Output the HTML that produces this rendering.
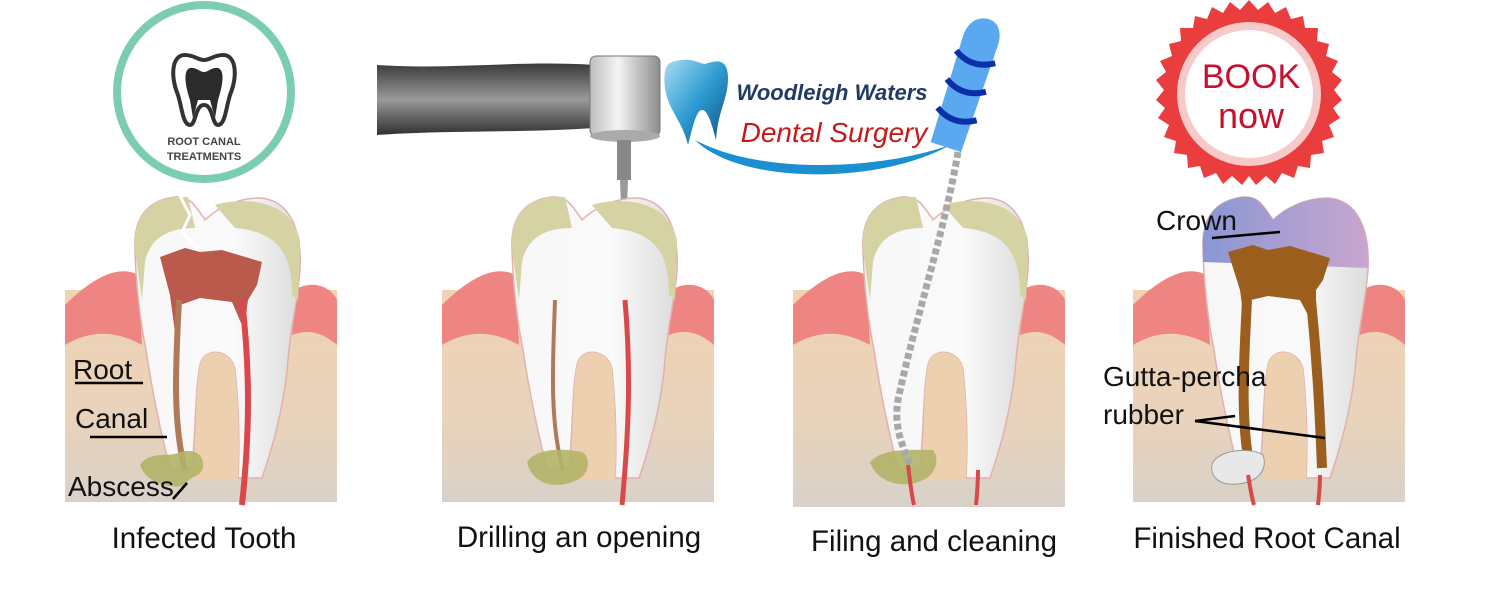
<!DOCTYPE html>
<html><head><meta charset="utf-8"><style>
html,body{margin:0;padding:0;background:#fff;width:1500px;height:600px;overflow:hidden}
svg{display:block}
text{font-family:"Liberation Sans",sans-serif}
</style></head><body>
<svg width="1500" height="600" viewBox="0 0 1500 600" xmlns="http://www.w3.org/2000/svg">
<defs>
<linearGradient id="bg" x1="0" y1="0" x2="0" y2="1">
<stop offset="0" stop-color="#f0d3b3"/><stop offset="0.6" stop-color="#e9d3bb"/><stop offset="1" stop-color="#d9d1c8"/></linearGradient>
<linearGradient id="tooth" x1="0" y1="0" x2="1" y2="0">
<stop offset="0" stop-color="#f7f7f7"/><stop offset="0.6" stop-color="#fafafa"/><stop offset="1" stop-color="#dcdcdc"/></linearGradient>
<linearGradient id="handle" x1="0" y1="0" x2="0" y2="1">
<stop offset="0" stop-color="#3a3a3a"/><stop offset="0.5" stop-color="#9a9a9a"/><stop offset="1" stop-color="#303030"/></linearGradient>
<linearGradient id="head" x1="0" y1="0" x2="1" y2="0">
<stop offset="0" stop-color="#bdbdbd"/><stop offset="0.4" stop-color="#f4f4f4"/><stop offset="1" stop-color="#8c8c8c"/></linearGradient>
<linearGradient id="btooth" x1="0" y1="0" x2="1" y2="1">
<stop offset="0" stop-color="#a9dcf2"/><stop offset="0.5" stop-color="#2e9bd1"/><stop offset="1" stop-color="#0b4f7c"/></linearGradient>
<linearGradient id="crown4" x1="0" y1="0" x2="1" y2="0">
<stop offset="0" stop-color="#8a97d4"/><stop offset="1" stop-color="#c8a6cf"/></linearGradient>
<g id="panel">
<rect x="65" y="290" width="272" height="212" fill="url(#bg)"/>
<path d="M65,305 C85,285 115,262 138,275 L142,345 C115,330 90,330 65,345 Z" fill="#ef8583"/>
<path d="M295,290 C310,280 330,285 337,300 L337,345 C320,330 305,330 292,335 Z" fill="#ef8583"/>
<path d="M135,250 C133,215 150,200 175,197 C190,196 195,205 205,220 C215,210 235,198 260,198 C290,200 302,230 300,270 C298,300 290,330 288,360 C285,400 275,440 262,478 L238,478 C240,440 238,400 235,370 C232,350 205,345 200,365 C195,390 196,430 192,468 L170,468 C160,430 152,390 146,350 C140,320 136,285 135,250 Z" fill="url(#tooth)" stroke="#e3b0ae" stroke-width="1.5"/>
<path d="M200,365 C205,345 232,350 235,370 C238,400 240,440 238,480 L195,480 C196,430 195,390 200,365 Z" fill="#ecd0b0"/>
</g>
</defs>

<circle cx="204" cy="92" r="87" fill="#fff" stroke="#7ccbb3" stroke-width="8"/>
<path d="M185,55 C172,55 170,75 178,95 C182,108 183,125 190,125 C196,125 195,105 204,105 C213,105 212,125 218,125 C225,125 226,108 230,95 C238,75 236,55 223,55 C214,55 210,60 204,60 C198,60 194,55 185,55 Z" fill="#fff" stroke="#333" stroke-width="4"/>
<path d="M190,68 C183,70 185,85 190,100 L193,118 L198,100 L210,100 L215,118 L218,100 C223,85 225,70 218,68 C212,67 208,72 204,72 C200,72 196,67 190,68 Z" fill="#2b2b2b"/>
<text x="204" y="145" font-size="11" font-weight="bold" text-anchor="middle" fill="#444">ROOT CANAL</text>
<text x="204" y="160" font-size="11" font-weight="bold" text-anchor="middle" fill="#444">TREATMENTS</text>

<path d="M377,65 C450,70 520,60 595,65 L595,128 C520,133 450,130 377,135 Z" fill="url(#handle)"/>
<rect x="590" y="56" width="70" height="80" rx="6" fill="url(#head)" stroke="#777"/>
<ellipse cx="625" cy="136" rx="35" ry="6" fill="#aaa"/>
<rect x="617" y="140" width="14" height="40" fill="#888"/>
<path d="M620,180 L628,180 L626,235 L622,235 Z" fill="#999"/>
<ellipse cx="624" cy="242" rx="5" ry="9" fill="#888"/>

<path d="M672,62 C690,56 700,64 705,64 C712,62 728,55 728,78 C728,100 718,110 716,140 C712,125 708,110 702,110 C696,110 692,130 688,145 C682,120 668,110 665,88 C663,72 666,64 672,62 Z" fill="url(#btooth)"/>
<path d="M695,140 C740,185 880,185 950,145 C880,170 760,175 695,140 Z" fill="#1b8fd0"/>
<text x="832" y="100" font-family="Liberation Serif,serif" font-style="italic" font-weight="bold" font-size="22" fill="#1f3a66" text-anchor="middle">Woodleigh Waters</text>
<text x="834" y="142" font-family="Liberation Serif,serif" font-style="italic" font-size="28" fill="#c41a1a" text-anchor="middle">Dental Surgery</text>

<g transform="rotate(18 965 85)">
<path d="M950,150 L948,40 C948,20 960,15 968,15 C976,15 985,22 984,40 L982,150 Z" fill="#5aa8f0"/>
<path d="M946,55 Q966,68 987,55 M946,85 Q966,98 987,85 M946,115 Q966,128 987,115" stroke="#0b2fa8" stroke-width="6" fill="none"/>
</g>

<g transform="translate(1249,94)">
<polygon fill="#ea3e3e" points="0,-94 9,-84 19,-92 26,-81 37,-87 42,-75 54,-78 56,-66 69,-66 68,-53 80,-50 77,-38 89,-33 83,-22 93,-14 85,-4 93,6 84,14 91,24 80,31 85,43 73,47 75,59 62,61 61,74 49,72 45,84 33,79 26,90 17,82 7,91 0,82 -7,91 -17,82 -26,90 -33,79 -45,84 -49,72 -61,74 -62,61 -75,59 -73,47 -85,43 -80,31 -91,24 -84,14 -93,6 -85,-4 -93,-14 -83,-22 -89,-33 -77,-38 -80,-50 -68,-53 -69,-66 -56,-66 -54,-78 -42,-75 -37,-87 -26,-81 -19,-92 -9,-84"/>
<circle r="72" fill="#f7c9c9"/>
<circle r="64" fill="#fff"/>
<text x="2" y="-6" font-size="34" fill="#c8102e" text-anchor="middle">BOOK</text>
<text x="2" y="34" font-size="36" fill="#c8102e" text-anchor="middle">now</text>
</g>

<use href="#panel"/>
<path d="M135,250 C133,215 150,200 175,197 L188,197 L195,228 C168,228 150,238 145,262 L142,300 Z" fill="#d5d3a3"/>
<path d="M215,205 C235,198 290,195 300,240 L298,300 L292,295 C292,255 280,232 235,228 Z" fill="#d5d3a3"/>
<path d="M180,196 L190,215 L182,232 L198,248" stroke="#fff" stroke-width="3" fill="none"/>
<path d="M160,257 L185,248 L200,252 L222,250 L262,262 L257,285 L248,300 L244,330 L232,302 L200,298 L180,305 L176,340 L170,295 Z" fill="#b95a4c"/>
<path d="M179,300 C176,360 172,420 185,470" stroke="#b07a5a" stroke-width="6" fill="none"/>
<path d="M242,300 C250,370 250,430 242,505" stroke="#d9484a" stroke-width="6" fill="none"/>
<path d="M140,465 C150,450 170,458 180,452 C195,448 205,455 203,468 C200,478 190,475 185,485 C170,490 145,482 140,465 Z" fill="#b3b268" opacity="0.9"/>

<g transform="translate(377,0)">
<use href="#panel"/>
<path d="M135,250 C133,215 150,200 175,197 L188,197 L195,228 C168,228 150,238 145,262 L142,300 Z" fill="#d5d3a3"/>
<path d="M215,205 C235,198 290,195 300,240 L298,300 L292,295 C292,255 280,232 235,228 Z" fill="#d5d3a3"/>
<path d="M178,300 C176,360 172,420 186,470" stroke="#b07a5a" stroke-width="4" fill="none"/>
<path d="M248,300 C254,370 252,430 245,505" stroke="#d9484a" stroke-width="5" fill="none"/>
<path d="M150,462 C160,448 185,448 205,452 C215,458 212,475 200,480 C180,490 155,485 150,462 Z" fill="#b3b268" opacity="0.9"/>
</g>

<g transform="translate(728,0)">
<use href="#panel"/>
<rect x="65" y="500" width="272" height="7" fill="#d9d1c8"/>
<path d="M135,250 C133,215 150,200 175,197 L188,197 L195,228 C168,228 150,238 145,262 L142,300 Z" fill="#d5d3a3"/>
<path d="M215,205 C235,198 290,195 300,240 L298,300 L292,295 C292,255 280,232 235,228 Z" fill="#d5d3a3"/>
<path d="M142,462 C155,448 180,450 205,450 C212,458 208,475 195,480 C175,490 148,482 142,462 Z" fill="#b3b268" opacity="0.9"/>
<path d="M180,465 C182,480 183,492 186,505" stroke="#d9484a" stroke-width="4" fill="none"/>
<path d="M250,470 C250,485 249,495 248,505" stroke="#d9484a" stroke-width="4" fill="none"/>
</g>
<path d="M958,152 C945,230 915,320 898,400 C893,430 905,450 910,465" stroke="#a8a8a8" stroke-width="7" stroke-dasharray="6,3" fill="none"/>

<g transform="translate(1068,0)">
<use href="#panel"/>
<path d="M135,250 C133,215 150,200 175,197 C190,196 195,205 205,220 C215,210 235,198 260,198 C290,200 302,230 300,268 L135,262 Z" fill="url(#crown4)"/>
<path d="M160,252 L185,245 L200,250 L222,246 L262,258 L255,280 L248,290 L248,330 L232,300 L200,296 L183,300 L178,335 L172,290 Z" fill="#9b5e1c"/>
<path d="M179,300 C176,360 172,420 182,468" stroke="#9b5e1c" stroke-width="10" fill="none"/>
<path d="M243,300 C250,370 252,420 254,468" stroke="#9b5e1c" stroke-width="10" fill="none"/>
<path d="M145,462 C155,448 185,448 195,455 C200,470 190,482 170,484 C150,486 140,475 145,462 Z" fill="#e8e8e8" stroke="#999"/>
<path d="M180,475 C182,485 183,495 186,505" stroke="#d9484a" stroke-width="4" fill="none"/>
<path d="M252,475 C252,488 251,496 250,505" stroke="#d9484a" stroke-width="4" fill="none"/>
</g>

<g font-size="28" fill="#111">
<text x="73" y="379">Root</text>
<text x="75" y="428">Canal</text>
<text x="68" y="496">Abscess</text>
<text x="1156" y="230">Crown</text>
<text x="1103" y="386">Gutta-percha</text>
<text x="1103" y="424">rubber</text>
</g>
<g stroke="#000" stroke-width="2.5" fill="none">
<line x1="75" y1="383" x2="143" y2="383"/>
<line x1="90" y1="437" x2="167" y2="437"/>
<line x1="173" y1="499" x2="187" y2="483"/>
<line x1="1212" y1="238" x2="1280" y2="232"/>
<line x1="1195" y1="421" x2="1235" y2="416"/>
<line x1="1195" y1="421" x2="1325" y2="438"/>
</g>
<g font-size="29.5" fill="#111" text-anchor="middle">
<text x="204" y="548">Infected Tooth</text>
<text x="579" y="547">Drilling an opening</text>
<text x="934" y="551">Filing and cleaning</text>
<text x="1267" y="548">Finished Root Canal</text>
</g>
</svg>
</body></html>
